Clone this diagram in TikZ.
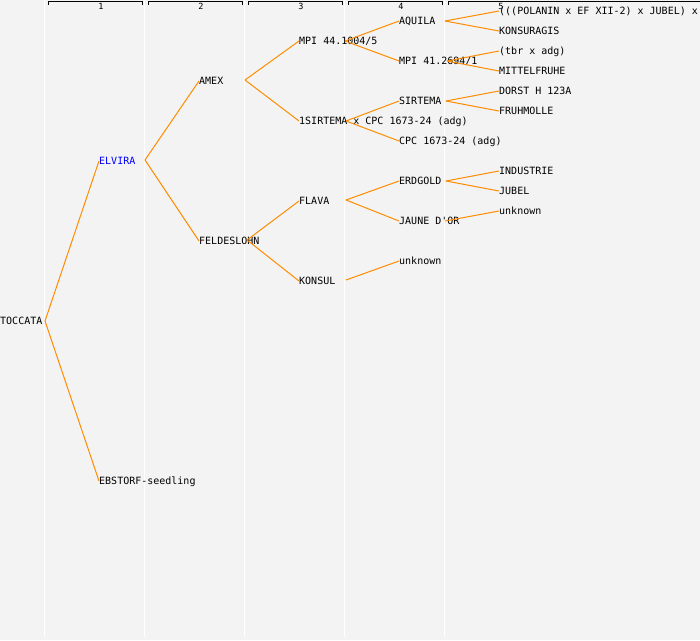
\documentclass[tikz,border=0pt]{standalone}
\usepackage{fontspec}
\setmonofont{DejaVu Sans Mono}
\usepackage{tikz}
\usetikzlibrary{positioning}
\definecolor{pagegray}{HTML}{F3F3F3}
\definecolor{linkorange}{HTML}{FF8C00}
\tikzstyle{plant} = [anchor=west, inner sep=0pt, text height=7.3pt, text depth=0pt, font=\ttfamily\fontsize{10}{12}\selectfont]
\tikzstyle{link} = [draw=linkorange, line width=1pt]
\tikzstyle{guide} = [draw=white, line width=1pt]
\tikzstyle{gen} = [inner sep=0pt, font=\ttfamily\fontsize{8.5}{9}\selectfont]

\begin{document}
\begin{tikzpicture}[x=1pt, y=-1pt]
 \fill[pagegray] (0,0) rectangle (700,640);
 \useasboundingbox (0,0) rectangle (700,640);

 \foreach \c in {1,...,5} {
  \draw[guide] (\c*100-56,0) -- (\c*100-56,637);
 }
 \foreach \c in {1,...,4} {
  \draw (\c*100-52,5) -- (\c*100-52,1.5) -- (\c*100+42,1.5) -- (\c*100+42,5);
  \node[gen] (gen\c) at (\c*100+1,6.5) {\c};
 }
 \draw (448,5) -- (448,1.5) -- (700,1.5);
 \node[gen] (gen5) at (501,6.5) {5};

 \node (toccata) [plant] at (0,321) {TOCCATA};
 \node (elvira) [plant, text=blue] at (99,161) {ELVIRA};
 \node (ebstorf) [plant] at (99,481) {EBSTORF-seedling};
 \node (amex) [plant] at (199,81) {AMEX};
 \node (feldeslohn) [plant] at (199,241) {FELDESLOHN};
 \node (mpi44) [plant] at (299,41) {MPI 44.1004/5};
 \node (sirtemacpc) [plant] at (299,121) {1SIRTEMA x CPC 1673-24 (adg)};
 \node (flava) [plant] at (299,201) {FLAVA};
 \node (konsul) [plant] at (299,281) {KONSUL};
 \node (aquila) [plant] at (399,21) {AQUILA};
 \node (mpi41) [plant] at (399,61) {MPI 41.2694/1};
 \node (sirtema) [plant] at (399,101) {SIRTEMA};
 \node (cpc) [plant] at (399,141) {CPC 1673-24 (adg)};
 \node (erdgold) [plant] at (399,181) {ERDGOLD};
 \node (jaune) [plant] at (399,221) {JAUNE D'OR};
 \node (unknownkonsul) [plant] at (399,261) {unknown};
 \node (polanin) [plant] at (499,11) {(((POLANIN x EF XII-2) x JUBEL) x};
 \node (konsuragis) [plant] at (499,31) {KONSURAGIS};
 \node (tbr) [plant] at (499,51) {(tbr x adg)};
 \node (mittelfruhe) [plant] at (499,71) {MITTELFRUHE};
 \node (dorst) [plant] at (499,91) {DORST H 123A};
 \node (fruhmolle) [plant] at (499,111) {FRUHMOLLE};
 \node (industrie) [plant] at (499,171) {INDUSTRIE};
 \node (jubel) [plant] at (499,191) {JUBEL};
 \node (unknownjaune) [plant] at (499,211) {unknown};

 \coordinate (toccata out) at (45,321);
 \coordinate (elvira out) at (145,160);
 \coordinate (amex out) at (245,80);
 \coordinate (feldeslohn out) at (247,240);
 \coordinate (mpi44 out) at (345,41);
 \coordinate (sirtemacpc out) at (346,121);
 \coordinate (flava out) at (346,200);
 \coordinate (konsul out) at (346,280);
 \coordinate (aquila out) at (445,21);
 \coordinate (mpi41 out) at (447,61);
 \coordinate (sirtema out) at (446,101);
 \coordinate (erdgold out) at (446,181);
 \coordinate (jaune out) at (445,221);

 \draw[link] (toccata out) -- (elvira.west);
 \draw[link] (toccata out) -- (ebstorf.west);
 \draw[link] (elvira out) -- (amex.west);
 \draw[link] (elvira out) -- (feldeslohn.west);
 \draw[link] (amex out) -- (mpi44.west);
 \draw[link] (amex out) -- (sirtemacpc.west);
 \draw[link] (feldeslohn out) -- (flava.west);
 \draw[link] (feldeslohn out) -- (konsul.west);
 \draw[link] (mpi44 out) -- (aquila.west);
 \draw[link] (mpi44 out) -- (mpi41.west);
 \draw[link] (sirtemacpc out) -- (sirtema.west);
 \draw[link] (sirtemacpc out) -- (cpc.west);
 \draw[link] (flava out) -- (erdgold.west);
 \draw[link] (flava out) -- (jaune.west);
 \draw[link] (konsul out) -- (unknownkonsul.west);
 \draw[link] (aquila out) -- (polanin.west);
 \draw[link] (aquila out) -- (konsuragis.west);
 \draw[link] (mpi41 out) -- (tbr.west);
 \draw[link] (mpi41 out) -- (mittelfruhe.west);
 \draw[link] (sirtema out) -- (dorst.west);
 \draw[link] (sirtema out) -- (fruhmolle.west);
 \draw[link] (erdgold out) -- (industrie.west);
 \draw[link] (erdgold out) -- (jubel.west);
 \draw[link] (jaune out) -- (unknownjaune.west);
\end{tikzpicture}
\end{document}
